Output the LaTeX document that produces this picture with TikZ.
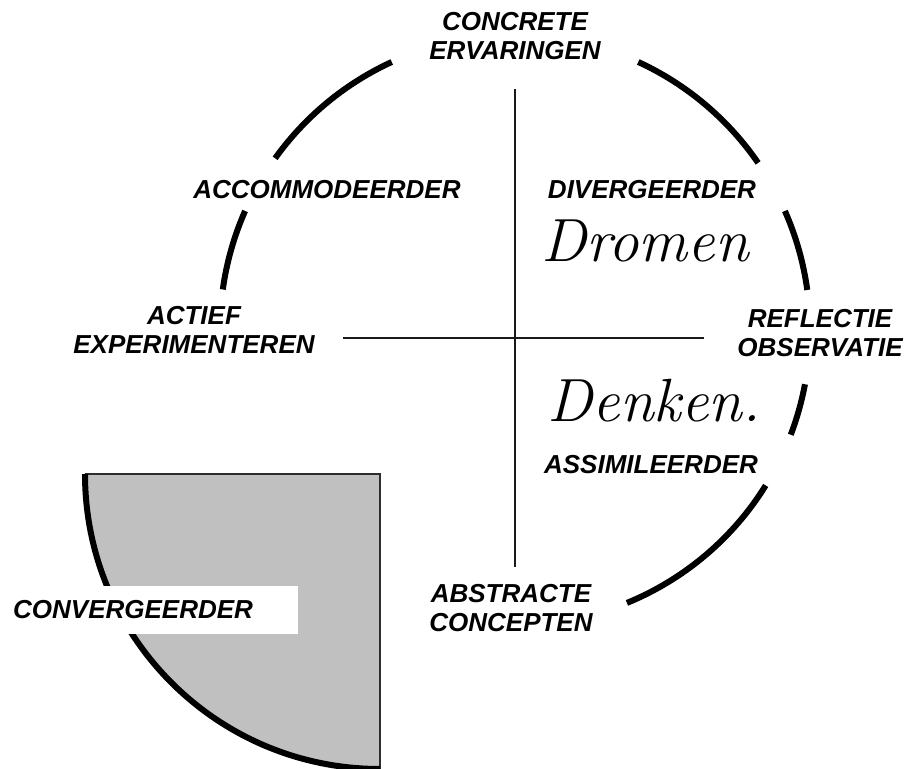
\documentclass[tikz,border=0pt]{standalone}
\usepackage{fontspec}
\newfontfamily\lblfont{Liberation Sans}
\definecolor{quadgray}{RGB}{192,192,192}
\definecolor{edgegray}{RGB}{45,45,45}
\begin{document}
\begin{tikzpicture}[x=1pt,y=1pt,
  ring/.style={line width=6pt, black},
  axisline/.style={line width=2pt, black!90},
  lbl/.style={font=\lblfont\bfseries\itshape\fontsize{26}{29}\selectfont, align=center, inner sep=0pt},
  hand/.style={font=\itshape\fontsize{61}{61}\selectfont, inner sep=0pt}]
\useasboundingbox (0,0) rectangle (914,769);
% centres of the learning circle and of the displaced quadrant
\coordinate (c) at (515,439);
\coordinate (q) at (380,295);

% displaced lower-left quadrant
\fill[quadgray] (q) -- ++(-295,0) arc[start angle=180, end angle=270, radius=295] -- cycle;
\draw[edgegray, line width=1.5pt] (q) ++(-295,0) -- (q) -- ++(0,-295);
\draw[ring] (q) ++(-295,0) arc[start angle=180, end angle=270, radius=295];

% circle pieces between the labels
\foreach \a/\b in {114.7/144.4, 156.2/172.1, 34.5/65.3, 7.8/23.8, -20.8/-10.6, -67.7/-31.8}
  \draw[ring] (c) ++(\a:295) arc[start angle=\a, end angle=\b, radius=295];

% the two axes
\coordinate (vt) at (515,680);
\coordinate (vb) at (515,202);
\coordinate (hl) at (343,431);
\coordinate (hr) at (704,431);
\draw[axisline] (vt) -- (vb);
\draw[axisline] (hl) -- (hr);

% poles and learning styles
\node[lbl] (ce) at (515,733) {CONCRETE\\ERVARINGEN};
\node[lbl] (acc) at (327,579) {ACCOMMODEERDER};
\node[lbl] (div) at (652,579) {DIVERGEERDER};
\node[lbl] (ae) at (194,439) {ACTIEF\\EXPERIMENTEREN};
\node[lbl] (ro) at (820,436) {REFLECTIE\\OBSERVATIE};
\node[lbl] (ass) at (651,304) {ASSIMILEERDER};
\node[lbl] (ac) at (511,161) {ABSTRACTE\\CONCEPTEN};
\node[lbl, fill=white, anchor=west, inner xsep=13pt, minimum height=48pt,
      text width=272pt, align=left] (conv) at (0,159) {CONVERGEERDER};

% handwritten notes
\node[hand] (dromen) at (645,528) {Dromen};
\node[hand] (denken) at (654,368) {Denken.};
\end{tikzpicture}
\end{document}
